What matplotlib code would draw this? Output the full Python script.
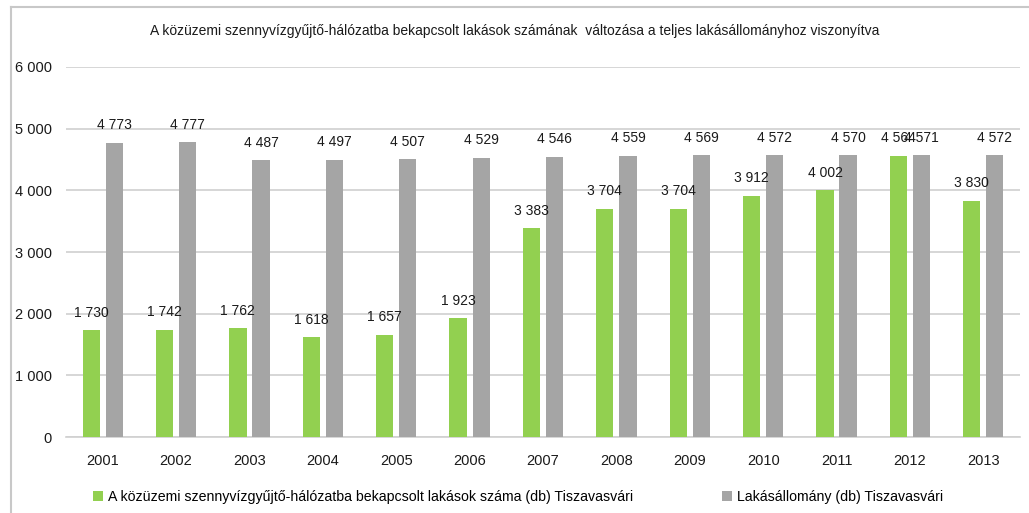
import matplotlib.pyplot as plt
from matplotlib.lines import Line2D
from matplotlib.ticker import FuncFormatter
import numpy as np

plt.rcParams['font.family'] = ['Liberation Sans', 'DejaVu Sans']

years = ['2001', '2002', '2003', '2004', '2005', '2006', '2007',
         '2008', '2009', '2010', '2011', '2012', '2013']
connected = [1730, 1742, 1762, 1618, 1657, 1923, 3383,
             3704, 3704, 3912, 4002, 4564, 3830]
housing = [4773, 4777, 4487, 4497, 4507, 4529, 4546,
           4559, 4569, 4572, 4570, 4571, 4572]

label_green = 'A közüzemi szennyvízgyűjtő-hálózatba bekapcsolt lakások száma (db) Tiszavasvári'
label_gray = 'Lakásállomány (db) Tiszavasvári'
title = 'A közüzemi szennyvízgyűjtő-hálózatba bekapcsolt lakások számának  változása a teljes lakásállományhoz viszonyítva'


def fmt(v):
    return f'{int(v):,}'.replace(',', ' ')


fig = plt.figure(figsize=(10.29, 5.13), dpi=100)
ax = fig.add_axes([0.0641, 0.1481, 0.9272, 0.7213])

x = np.arange(len(years))
w = 0.235
off = 0.157
b1 = ax.bar(x - off, connected, w, color='#92D050', label=label_green, zorder=3)
b2 = ax.bar(x + off, housing, w, color='#A5A5A5', label=label_gray, zorder=3)

# value labels above each bar
for bars, vals in ((b1, connected), (b2, housing)):
    for rect, v in zip(bars, vals):
        ax.text(rect.get_x() + rect.get_width() / 2, v + 170, fmt(v),
                ha='center', va='bottom', fontsize=10, color='#1a1a1a', zorder=4)

ax.set_xlim(-0.5, len(years) - 0.5)
ax.set_ylim(0, 6000)
ax.set_yticks(range(0, 6001, 1000))
ax.yaxis.set_major_formatter(FuncFormatter(lambda v, p: fmt(v)))
ax.set_xticks(x)
ax.set_xticklabels(years)
ax.tick_params(axis='both', length=0, labelsize=10.5, colors='#1a1a1a')
ax.tick_params(axis='y', pad=10)
ax.tick_params(axis='x', pad=12)
ax.grid(axis='y', color='#D0D0D0', linewidth=1.2, zorder=0)
for s in ['top', 'right', 'left']:
    ax.spines[s].set_visible(False)
ax.spines['bottom'].set_color('#D0D0D0')
ax.spines['bottom'].set_linewidth(1.2)

fig.text(515 / 1029, 1 - 31 / 513, title, ha='center', va='center',
         fontsize=10, color='#1a1a1a')

fig.legend(handles=[b1, b2], loc='center', bbox_to_anchor=(518 / 1029, 1 - 497 / 513),
           ncol=2, frameon=False, fontsize=10.2, handlelength=0.7, handleheight=0.7,
           handletextpad=0.35, columnspacing=6.3)

# outer chart frame
fig.add_artist(Line2D([11 / 1029, 11 / 1029], [0, 1 - 7 / 513],
                      transform=fig.transFigure, color='#C8C8C8', linewidth=1.5))
fig.add_artist(Line2D([11 / 1029, 1], [1 - 7 / 513, 1 - 7 / 513],
                      transform=fig.transFigure, color='#C8C8C8', linewidth=1.5))

fig.savefig('out.png', dpi=100)
